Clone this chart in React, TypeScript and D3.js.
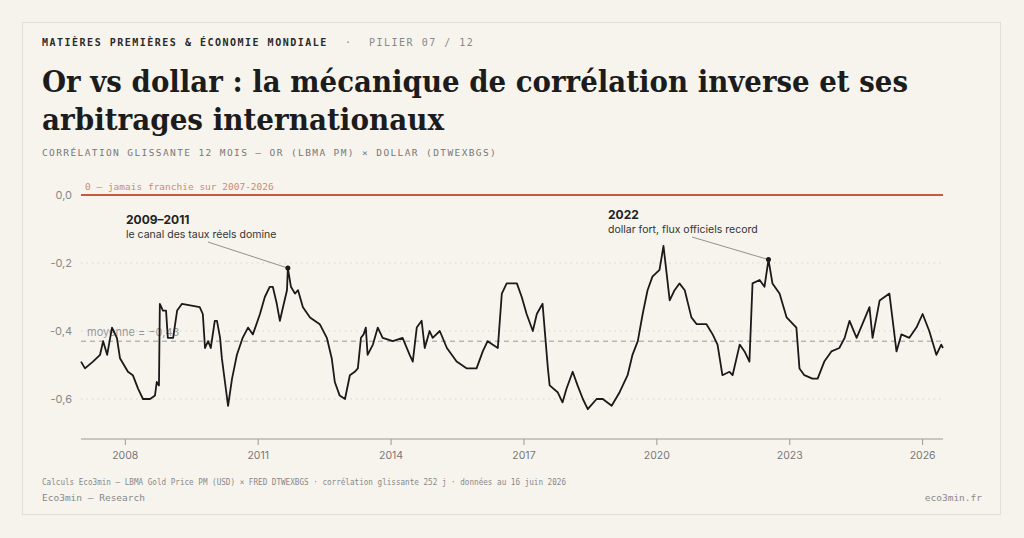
import React from 'react';
import * as d3 from 'd3';

// rolling 12-month correlation, gold vs broad dollar (decimal years)
const years = [2007.00, 2007.09, 2007.27, 2007.43, 2007.50, 2007.59, 2007.70, 2007.81, 2007.88, 2008.06, 2008.17, 2008.29, 2008.40, 2008.56, 2008.67, 2008.71, 2008.76, 2008.78, 2008.85, 2008.92, 2008.96, 2009.08, 2009.17, 2009.28, 2009.68, 2009.75, 2009.80, 2009.87, 2009.93, 2010.02, 2010.07, 2010.14, 2010.18, 2010.25, 2010.32, 2010.41, 2010.52, 2010.65, 2010.77, 2010.88, 2011.04, 2011.15, 2011.26, 2011.33, 2011.42, 2011.49, 2011.56, 2011.65, 2011.67, 2011.74, 2011.83, 2011.90, 2012.01, 2012.17, 2012.39, 2012.55, 2012.66, 2012.73, 2012.84, 2012.96, 2013.07, 2013.18, 2013.25, 2013.32, 2013.38, 2013.43, 2013.47, 2013.59, 2013.70, 2013.81, 2014.04, 2014.26, 2014.42, 2014.49, 2014.58, 2014.69, 2014.76, 2014.87, 2014.94, 2015.10, 2015.26, 2015.48, 2015.71, 2015.93, 2016.07, 2016.18, 2016.29, 2016.41, 2016.50, 2016.61, 2016.84, 2016.95, 2017.06, 2017.20, 2017.29, 2017.42, 2017.54, 2017.58, 2017.76, 2017.87, 2017.96, 2018.10, 2018.21, 2018.33, 2018.44, 2018.64, 2018.78, 2018.98, 2019.16, 2019.34, 2019.45, 2019.57, 2019.68, 2019.79, 2019.90, 2020.06, 2020.15, 2020.22, 2020.29, 2020.40, 2020.51, 2020.63, 2020.78, 2020.90, 2021.12, 2021.26, 2021.37, 2021.48, 2021.64, 2021.71, 2021.87, 2021.98, 2022.09, 2022.16, 2022.32, 2022.43, 2022.52, 2022.61, 2022.77, 2022.93, 2023.15, 2023.22, 2023.33, 2023.51, 2023.63, 2023.78, 2023.94, 2024.12, 2024.24, 2024.35, 2024.51, 2024.64, 2024.80, 2024.87, 2025.03, 2025.25, 2025.41, 2025.52, 2025.70, 2025.86, 2026.00, 2026.15, 2026.31, 2026.42, 2026.46];
const corr = [-0.49, -0.51, -0.49, -0.47, -0.43, -0.47, -0.39, -0.42, -0.48, -0.52, -0.53, -0.57, -0.60, -0.60, -0.59, -0.55, -0.56, -0.32, -0.34, -0.34, -0.42, -0.42, -0.34, -0.32, -0.33, -0.35, -0.45, -0.43, -0.45, -0.37, -0.37, -0.42, -0.48, -0.55, -0.62, -0.54, -0.47, -0.42, -0.39, -0.41, -0.35, -0.30, -0.27, -0.27, -0.32, -0.37, -0.33, -0.28, -0.215, -0.27, -0.29, -0.28, -0.33, -0.36, -0.38, -0.42, -0.48, -0.55, -0.59, -0.60, -0.53, -0.52, -0.51, -0.42, -0.41, -0.39, -0.47, -0.44, -0.39, -0.42, -0.43, -0.42, -0.47, -0.49, -0.39, -0.37, -0.45, -0.40, -0.42, -0.40, -0.45, -0.49, -0.51, -0.51, -0.46, -0.43, -0.44, -0.45, -0.29, -0.26, -0.26, -0.30, -0.35, -0.40, -0.35, -0.32, -0.51, -0.56, -0.58, -0.61, -0.57, -0.52, -0.56, -0.60, -0.63, -0.60, -0.60, -0.62, -0.58, -0.53, -0.47, -0.43, -0.35, -0.28, -0.24, -0.22, -0.15, -0.23, -0.31, -0.28, -0.26, -0.28, -0.36, -0.38, -0.38, -0.41, -0.44, -0.53, -0.52, -0.53, -0.44, -0.46, -0.49, -0.26, -0.25, -0.27, -0.19, -0.26, -0.29, -0.36, -0.39, -0.51, -0.53, -0.54, -0.54, -0.49, -0.46, -0.45, -0.42, -0.37, -0.42, -0.38, -0.33, -0.42, -0.31, -0.29, -0.46, -0.41, -0.42, -0.39, -0.35, -0.40, -0.47, -0.44, -0.45];

const yTicks = [0, -0.2, -0.4, -0.6];
const xTicks = [2008, 2011, 2014, 2017, 2020, 2023, 2026];
const meanValue = -0.43;
const annotations = [
  { year: 2011.67, value: -0.215, title: '2009–2011', text: 'le canal des taux réels domine', tx: 126, ty: 224, lx: 208, ly: 242 },
  { year: 2022.52, value: -0.19, title: '2022', text: 'dollar fort, flux officiels record', tx: 608, ty: 219, lx: 692, ly: 237 },
];

const mono = '"DejaVu Sans Mono", "Liberation Mono", monospace';
const sans = 'Inter, "Noto Sans", sans-serif';

export default function App() {
  const x = d3.scaleLinear().domain([2007, 2026.46]).range([81, 943]);
  const y = d3.scaleLinear().domain([0, -0.6]).range([195, 399]);
  const pts = years.map((t, i) => [t, corr[i]] as [number, number]);
  const line = d3.line<[number, number]>().x(d => x(d[0])).y(d => y(d[1]));
  const fmt = (v: number) => (v === 0 ? '0,0' : d3.format('.1f')(v).replace('.', ',').replace('−', '-'));

  return (
    <svg width={1024} height={538} style={{ position: 'absolute', left: 0, top: 0 }}>
      <rect x={0} y={0} width={1024} height={538} fill="#f6f3ed" />
      <rect x={22.5} y={22.5} width={978} height={492} fill="#f7f4ee" stroke="#e3ded3" />
      <text x={42} y={46} fontFamily={mono} fontSize={10} fontWeight={700} letterSpacing={1.5} fill="#2a2a2a">
        MATIÈRES PREMIÈRES &amp; ÉCONOMIE MONDIALE
      </text>
      <text x={345} y={46} fontFamily={mono} fontSize={10} letterSpacing={1.5} fill="#888">·</text>
      <text x={369} y={46} fontFamily={mono} fontSize={10} letterSpacing={1.5} fill="#888">PILIER 07 / 12</text>
      <text x={42} y={92} fontFamily='"DejaVu Serif", serif' fontSize={29} fontWeight={700} fill="#1c1c1c" textLength={866} lengthAdjust="spacingAndGlyphs">
        Or vs dollar : la mécanique de corrélation inverse et ses
      </text>
      <text x={42} y={130} fontFamily='"DejaVu Serif", serif' fontSize={29} fontWeight={700} fill="#1c1c1c" textLength={402} lengthAdjust="spacingAndGlyphs">
        arbitrages internationaux
      </text>
      <text x={42} y={156} fontFamily={mono} fontSize={9.5} letterSpacing={1.2} fill="#777" textLength={455}>
        CORRÉLATION GLISSANTE 12 MOIS — OR (LBMA PM) × DOLLAR (DTWEXBGS)
      </text>

      {yTicks.map(v => (
        <g key={v}>
          {v !== 0 && <line x1={81} x2={943} y1={y(v)} y2={y(v)} stroke="#d8d3c8" strokeDasharray="1.5,4" />}
          <text x={72} y={y(v) + 4} textAnchor="end" fontFamily={sans} fontSize={11} fill="#888">{fmt(v)}</text>
        </g>
      ))}

      <text x={85} y={190} fontFamily={mono} fontSize={9.5} fill="#d08a70">0 — jamais franchie sur 2007-2026</text>
      <line x1={81} x2={943} y1={y(0)} y2={y(0)} stroke="#c65a42" strokeWidth={2} />

      <text x={87} y={336} fontFamily={sans} fontSize={11} fill="#999">moyenne = −0,43</text>
      <line x1={81} x2={943} y1={y(meanValue)} y2={y(meanValue)} stroke="#9a9a9a" strokeDasharray="5,4" />

      <path d={line(pts) ?? ''} fill="none" stroke="#1a1a1a" strokeWidth={1.8} strokeLinejoin="round" />

      {annotations.map(a => (
        <g key={a.title}>
          <line x1={a.lx} y1={a.ly} x2={x(a.year)} y2={y(a.value)} stroke="#777" strokeWidth={0.8} />
          <circle cx={x(a.year)} cy={y(a.value)} r={2.5} fill="#1a1a1a" />
          <text x={a.tx} y={a.ty} fontFamily={sans} fontSize={12} fontWeight={700} fill="#222">{a.title}</text>
          <text x={a.tx} y={a.ty + 14} fontFamily={sans} fontSize={10.5} fill="#333">{a.text}</text>
        </g>
      ))}

      <line x1={81} x2={943} y1={439} y2={439} stroke="#999" />
      {xTicks.map(t => (
        <g key={t}>
          <line x1={x(t)} x2={x(t)} y1={439} y2={445} stroke="#999" />
          <text x={x(t)} y={459} textAnchor="middle" fontFamily={sans} fontSize={10.5} fill="#777">{t}</text>
        </g>
      ))}

      <text x={42} y={485} fontFamily={mono} fontSize={8.5} fill="#888" textLength={524} lengthAdjust="spacingAndGlyphs">
        Calculs Eco3min — LBMA Gold Price PM (USD) × FRED DTWEXBGS · corrélation glissante 252 j · données au 16 juin 2026
      </text>
      <text x={42} y={501} fontFamily={mono} fontSize={9.5} fill="#888">Eco3min — Research</text>
      <text x={982} y={501} textAnchor="end" fontFamily={mono} fontSize={9.5} fill="#888">eco3min.fr</text>
    </svg>
  );
}
